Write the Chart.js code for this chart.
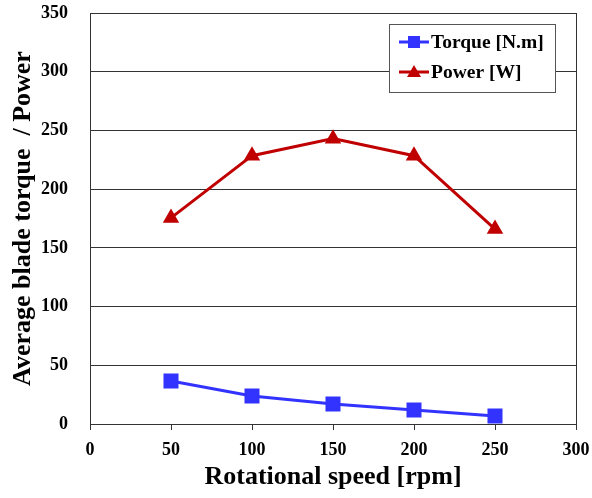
<!DOCTYPE html>
<html>
<head>
<meta charset="utf-8">
<script src="https://cdn.jsdelivr.net/npm/chart.js@4.4.0/dist/chart.umd.min.js"></script>
<style>
  body { margin: 0; background: #fff; }
  #wrap { width: 592px; height: 498px; }
</style>
</head>
<body>
<div id="wrap"><canvas id="chart" width="592" height="498"></canvas></div>
<script>
// rotational speed [rpm]
let speeds = [50, 100, 150, 200, 250]
let torque = [36.6, 23.8, 17, 12, 6.8]
let power = [175.5, 228.5, 243, 228.5, 166]

let blue = '#3333ff'
let red = '#c00000'
let serif = "'Liberation Serif', 'Times New Roman', serif"

// legend box inside the plot + right border
let boxPlugin = {
    id: 'boxPlugin',
    afterDraw(chart) {
        let ctx = chart.ctx
        let a = chart.chartArea
        ctx.save()
        ctx.strokeStyle = '#333'
        ctx.lineWidth = 1
        ctx.beginPath()
        ctx.moveTo(a.right + 0.5, a.top)
        ctx.lineTo(a.right + 0.5, a.bottom)
        ctx.stroke()

        let x = 389, y = 24, w = 166, h = 68
        ctx.fillStyle = '#fff'
        ctx.fillRect(x, y, w, h)
        ctx.strokeStyle = '#555'
        ctx.strokeRect(x + 0.5, y + 0.5, w, h)

        chart.data.datasets.forEach((ds, i) => {
            let cy = 42 + i * 30
            ctx.strokeStyle = ds.borderColor
            ctx.lineWidth = 3
            ctx.beginPath()
            ctx.moveTo(399, cy)
            ctx.lineTo(429, cy)
            ctx.stroke()
            ctx.fillStyle = ds.borderColor
            if (ds.pointStyle === 'rect') {
                ctx.fillRect(408, cy - 6, 12, 12)
            } else {
                ctx.beginPath()
                ctx.moveTo(414, cy - 7)
                ctx.lineTo(421, cy + 5)
                ctx.lineTo(407, cy + 5)
                ctx.closePath()
                ctx.fill()
            }
            ctx.fillStyle = '#000'
            ctx.font = 'bold 19.5px ' + serif
            ctx.textBaseline = 'middle'
            ctx.fillText(ds.label, 431, cy + 1)
        })
        ctx.restore()
    }
}

let chart = new Chart(document.getElementById('chart'), {
    type: 'line',
    data: {
        datasets: [
            {
                label: 'Torque [N.m]',
                data: speeds.map((s, i) => ({ x: s, y: torque[i] })),
                borderColor: blue,
                backgroundColor: blue,
                borderWidth: 3,
                pointStyle: 'rect',
                pointRadius: 8.5,
                pointHoverRadius: 8.5,
            },
            {
                label: 'Power [W]',
                data: speeds.map((s, i) => ({ x: s, y: power[i] })),
                borderColor: red,
                backgroundColor: red,
                borderWidth: 3,
                pointStyle: 'triangle',
                pointRadius: 6.5,
                pointHoverRadius: 6.5,
            },
        ]
    },
    options: {
        responsive: false,
        animation: false,
        layout: { padding: { left: 0, right: 16, top: 13, bottom: 0 } },
        plugins: { legend: { display: false }, tooltip: { enabled: false } },
        scales: {
            x: {
                type: 'linear',
                min: 0, max: 300,
                ticks: { stepSize: 50, maxRotation: 0, color: '#000', padding: 10, font: { family: serif, size: 18, weight: 'bold' } },
                grid: { drawOnChartArea: false, drawTicks: true, tickLength: 6, color: '#333' },
                border: { color: '#333' },
                title: {
                    display: true,
                    text: 'Rotational speed [rpm]',
                    color: '#000',
                    font: { family: serif, size: 26, weight: 'bold' },
                    padding: { top: 0, bottom: 5 }
                },
                afterFit(scale) {
                    scale.height = 74
                    scale.paddingLeft = 0
                    scale.paddingRight = 0
                }
            },
            y: {
                min: 0, max: 350,
                ticks: { stepSize: 50, color: '#000', padding: 22, font: { family: serif, size: 18, weight: 'bold' } },
                grid: { color: '#333', drawTicks: false },
                border: { color: '#333' },
                title: {
                    display: true,
                    text: 'Average blade torque  / Power',
                    color: '#000',
                    font: { family: serif, size: 26, weight: 'bold' },
                    padding: { top: 8, bottom: 0 }
                },
                afterFit(scale) {
                    scale.width = 90
                    scale.paddingTop = 0
                    scale.paddingBottom = 0
                }
            }
        }
    },
    plugins: [boxPlugin]
})
</script>
</body>
</html>
